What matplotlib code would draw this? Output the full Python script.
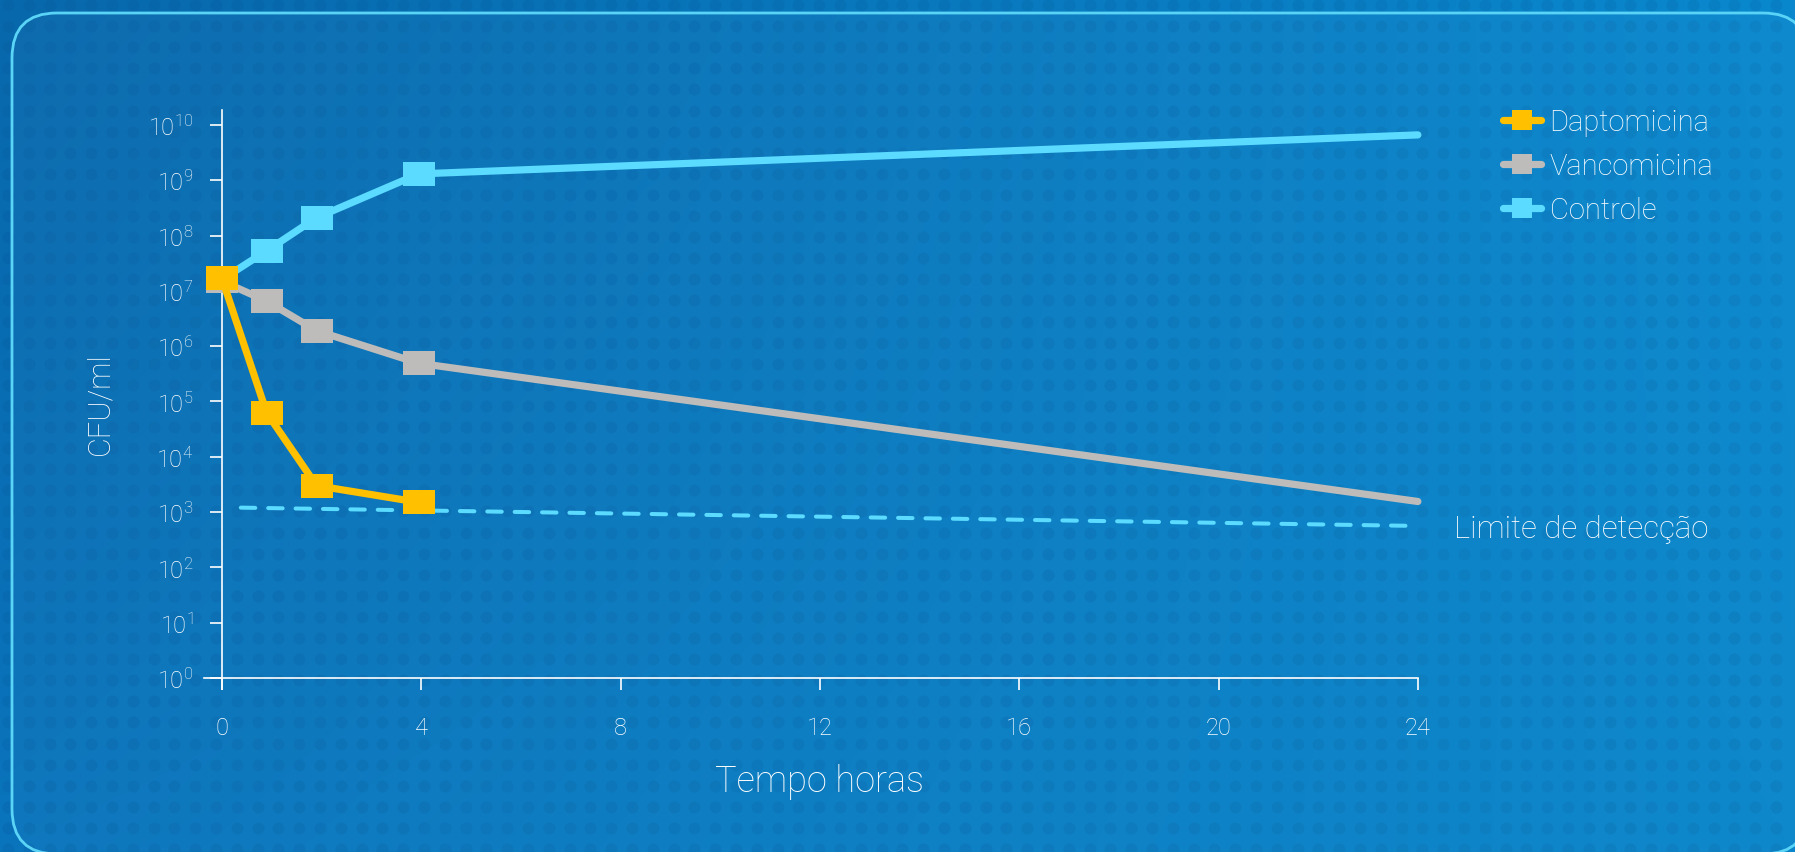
import numpy as np
import matplotlib
matplotlib.use('Agg')
import matplotlib.pyplot as plt
from matplotlib.patches import FancyBboxPatch
from matplotlib.lines import Line2D

# dados
tempo = [0, 0.9, 1.9, 3.95, 24]
tempo_dapto = [0, 0.9, 1.9, 3.95]
dapto = [1.7e7, 6.2e4, 3.0e3, 1.5e3]
vanco = [1.5e7, 6.5e6, 1.9e6, 4.9e5, 1.55e3]
controle = [1.6e7, 5.3e7, 2.1e8, 1.3e9, 6.6e9]
limite_x = [0.38, 24]
limite_y = [1.2e3, 5.6e2]
expoentes = list(range(0, 11))
x_ticks = [0, 4, 8, 12, 16, 20, 24]
nomes = ['Daptomicina', 'Vancomicina', 'Controle']

AMARELO = '#FFC000'
CINZA = '#BEBCBA'
CIANO = '#5BDBFF'
BRANCO = '#FFFFFF'

plt.rcParams['font.family'] = ['Roboto', 'DejaVu Sans']
plt.rcParams['font.weight'] = 'light'

fig = plt.figure(figsize=(17.95, 8.53), dpi=100)

# fundo: gradiente + pontos + moldura arredondada
bg = fig.add_axes([0, 0, 1, 1], zorder=0)
bg.set_xlim(0, 1795)
bg.set_ylim(853, 0)
bg.axis('off')
X, Y = np.meshgrid(np.linspace(0, 1, 200), np.linspace(0, 1, 100))
tl = np.array([8, 104, 172]) / 255
tr = np.array([10, 136, 206]) / 255
bl = np.array([10, 116, 188]) / 255
br = np.array([10, 134, 202]) / 255
img = ((1 - X) * (1 - Y))[..., None] * tl + (X * (1 - Y))[..., None] * tr \
    + ((1 - X) * Y)[..., None] * bl + (X * Y)[..., None] * br
bg.imshow(img, extent=(0, 1795, 853, 0), aspect='auto', interpolation='bilinear')
px, py = np.meshgrid(np.arange(8, 1795, 20.8), np.arange(6, 853, 21.1))
bg.scatter(px.ravel(), py.ravel(), s=75, color='#034c8c', alpha=0.13, linewidths=0)
bg.add_patch(FancyBboxPatch((12, 14), 1796, 841, boxstyle='round,pad=0,rounding_size=45',
                            fc=(1, 1, 1, 0.025), ec='#5AD4F6', lw=2))

# gráfico principal
ax = fig.add_axes([0.1136, 0.1911, 0.6763, 0.6788], zorder=2)
ax.patch.set_alpha(0)
ax.set_yscale('log')
ax.set_xlim(-0.36, 24)
ax.set_ylim(10 ** -0.2, 10 ** 10.27)

retangulo = [(-1, -0.75), (1, -0.75), (1, 0.75), (-1, 0.75), (-1, -0.75)]
estilo = dict(lw=5.2, marker=retangulo, markersize=23, solid_capstyle='round',
              clip_on=False, markeredgewidth=0)

ax.plot(limite_x, limite_y, color=CIANO, lw=2.9, ls=(0, (3.6, 3.2)),
        dash_capstyle='round', clip_on=False, zorder=2)
# sem marcador no ponto de 24 h
ax.plot(tempo, controle, color=CIANO, markerfacecolor=CIANO, markevery=[0, 1, 2, 3],
        zorder=3, **estilo)
ax.plot(tempo, vanco, color=CINZA, markerfacecolor=CINZA, markevery=[0, 1, 2, 3],
        zorder=4, **estilo)
ax.plot(tempo_dapto, dapto, color=AMARELO, markerfacecolor=AMARELO, zorder=5, **estilo)

ax.text(24.72, 10 ** 2.71, 'Limite de detecção', color=BRANCO, fontsize=22.5,
        ha='left', va='center', clip_on=False)

# eixos
for lado in ['top', 'right']:
    ax.spines[lado].set_visible(False)
ax.spines['left'].set_position(('data', 0))
ax.spines['bottom'].set_position(('data', 1))
for lado in ['left', 'bottom']:
    ax.spines[lado].set_color(BRANCO)
    ax.spines[lado].set_linewidth(1.2)

ax.set_xticks(x_ticks)
ax.set_xticklabels([str(t) for t in x_ticks])
ax.set_yticks([10.0 ** e for e in expoentes])
ax.set_yticklabels([r'$\mathregular{10^{%d}}$' % e for e in expoentes])
ax.minorticks_off()
ax.tick_params(axis='x', colors=BRANCO, length=8.5, width=1.2, pad=19, labelsize=17)
ax.tick_params(axis='y', colors=BRANCO, length=8.5, width=1.2, pad=12, labelsize=17)

ax.text(0.507, -0.159, 'Tempo horas', transform=ax.transAxes, color=BRANCO,
        fontsize=26, ha='center', va='center')
ax.text(-0.0857, 0.495, 'CFU/ml', transform=ax.transAxes, color=BRANCO,
        fontsize=22, ha='center', va='center', rotation=90)

# legenda
cores = [AMARELO, CINZA, CIANO]
handles = [Line2D([], [], color=c, lw=5.2, marker='s', markersize=15, markeredgewidth=0,
                  solid_capstyle='round') for c in cores]
leg = fig.legend(handles, nomes, loc='center left', bbox_to_anchor=(0.8373, 0.804),
                 frameon=False, fontsize=21, handlelength=1.3, handletextpad=0.3,
                 labelspacing=0.55, borderpad=0, borderaxespad=0, numpoints=1)
for t in leg.get_texts():
    t.set_color(BRANCO)

plt.savefig('out.png', dpi=100)
